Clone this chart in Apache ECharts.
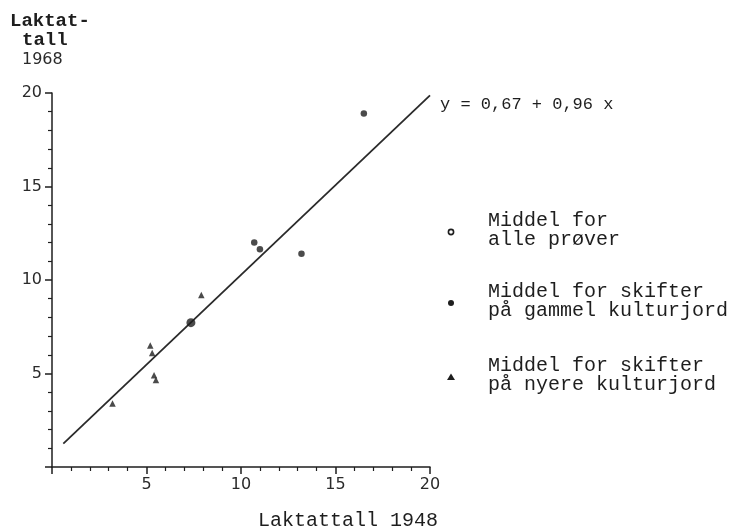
<!DOCTYPE html>
<html>
<head>
<meta charset="utf-8">
<script src="https://cdn.jsdelivr.net/npm/echarts@6/dist/echarts.min.js"></script>
<style>
  html, body { margin: 0; padding: 0; background: #fff; }
  #chart { width: 734px; height: 532px; }
</style>
</head>
<body>
<div id="chart"></div>
<script>
// Lactate counts: 1948 (x) versus 1968 (y)
const gammelKulturjord = [[16.5, 18.9], [10.7, 12.0], [11.0, 11.65], [13.2, 11.4]];
const nyereKulturjord = [[7.9, 9.2], [5.2, 6.5], [5.3, 6.1], [5.4, 4.9], [5.5, 4.65], [3.2, 3.4]];
const alleProver = [[7.35, 7.72]];

// Regression y = 0,67 + 0,96 x
const intercept = 0.67;
const slope = 0.96;
const lineRange = [0.6, 20];
const equationText = 'y = 0,67 + 0,96 x';

const axisMin = 0, axisMax = 20, axisStep = 5;

const legendItems = [
  { symbol: 'ring', lines: ['Middel for', 'alle prøver'] },
  { symbol: 'dot', lines: ['Middel for skifter', 'på gammel kulturjord'] },
  { symbol: 'triangle', lines: ['Middel for skifter', 'på nyere kulturjord'] }
];

const yTitle = ['Laktat-', 'tall', '1968'];
const xTitle = 'Laktattall 1948';

const mono = '"Liberation Mono", "DejaVu Sans Mono", monospace';
const sans = '"DejaVu Sans", "Noto Sans", sans-serif';
const ink = '#1e1e1e';

const lineData = lineRange.map(x => [x, +(intercept + slope * x).toFixed(3)]);

const chart = echarts.init(document.getElementById('chart'), null, { renderer: 'canvas' });

function axisCommon() {
  return {
    type: 'value',
    min: axisMin,
    max: axisMax,
    interval: axisStep,
    splitLine: { show: false },
    axisLine: { show: true, lineStyle: { color: ink, width: 1.5 } },
    axisTick: { show: true, inside: false, length: 7, lineStyle: { color: ink, width: 1.5 } },
    minorTick: { show: true, splitNumber: 5, length: 4, lineStyle: { color: ink, width: 1.2 } },
    axisLabel: {
      showMinLabel: false,
      margin: 10,
      fontFamily: sans,
      fontSize: 16,
      color: '#2a2a2a'
    }
  };
}

// Legend block drawn at the right of the plot
const legendGraphics = [];
const legendTops = [219, 290, 364];
legendItems.forEach((item, i) => {
  const top = legendTops[i];
  const symY = top + 13;
  let shape;
  if (item.symbol === 'ring') {
    shape = { type: 'circle', shape: { cx: 451, cy: symY, r: 2.6 }, style: { fill: '#fff', stroke: ink, lineWidth: 1.6 } };
  } else if (item.symbol === 'dot') {
    shape = { type: 'circle', shape: { cx: 451, cy: symY, r: 3 }, style: { fill: ink } };
  } else {
    shape = { type: 'polygon', shape: { points: [[451, symY - 3.5], [455, symY + 3], [447, symY + 3]] }, style: { fill: ink } };
  }
  legendGraphics.push(shape);
  item.lines.forEach((ln, j) => {
    legendGraphics.push({
      type: 'text',
      left: 488,
      top: top - 8 + j * 19,
      style: { text: ln, fontFamily: mono, fontSize: 20, fill: ink }
    });
  });
});

const titleGraphics = [
  { type: 'text', left: 10, top: 12, style: { text: yTitle[0], fontFamily: mono, fontSize: 19, fontWeight: 'bold', fill: ink } },
  { type: 'text', left: 22, top: 31, style: { text: yTitle[1], fontFamily: mono, fontSize: 19, fontWeight: 'bold', fill: ink } },
  { type: 'text', left: 22, top: 52, style: { text: yTitle[2], fontFamily: sans, fontSize: 16, fill: '#2a2a2a' } },
  { type: 'text', left: 258, top: 511, style: { text: xTitle, fontFamily: mono, fontSize: 20, fill: ink } }
];

chart.setOption({
  backgroundColor: '#ffffff',
  animation: false,
  grid: { left: 52, right: 304, top: 93, bottom: 65, containLabel: false },
  xAxis: axisCommon(),
  yAxis: axisCommon(),
  graphic: titleGraphics.concat(legendGraphics),
  series: [
    {
      name: 'Regresjon',
      type: 'line',
      data: lineData,
      showSymbol: false,
      symbol: 'none',
      lineStyle: { color: '#2a2a2a', width: 1.8 },
      endLabel: {
        show: true,
        distance: 10,
        offset: [0, 9],
        formatter: equationText,
        fontFamily: mono,
        fontSize: 17,
        color: ink
      },
      z: 2
    },
    {
      name: 'Middel for skifter på gammel kulturjord',
      type: 'scatter',
      data: gammelKulturjord,
      symbol: 'circle',
      symbolSize: 6.5,
      itemStyle: { color: ink },
      z: 3
    },
    {
      name: 'Middel for skifter på nyere kulturjord',
      type: 'scatter',
      data: nyereKulturjord,
      symbol: 'triangle',
      symbolSize: [6.5, 6.5],
      itemStyle: { color: ink },
      z: 3
    },
    {
      name: 'Middel for alle prøver',
      type: 'scatter',
      data: alleProver,
      symbol: 'circle',
      symbolSize: 9,
      itemStyle: { color: ink },
      z: 4
    }
  ]
});
</script>
</body>
</html>
